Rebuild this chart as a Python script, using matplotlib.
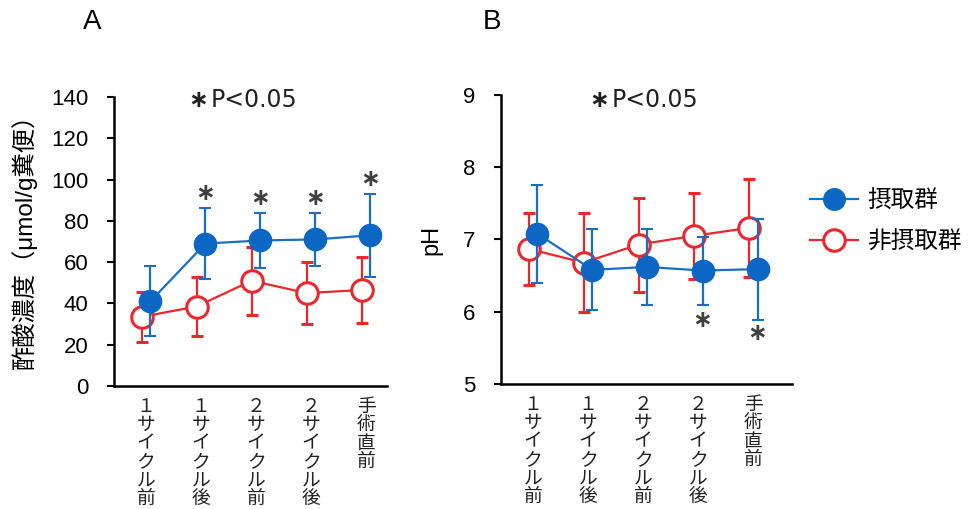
import matplotlib
matplotlib.use("Agg")
import matplotlib.pyplot as plt
import numpy as np
from matplotlib.lines import Line2D

plt.rcParams['font.family'] = ['Liberation Sans', 'Noto Sans CJK JP', 'DejaVu Sans']

categories = ["１サイクル前", "１サイクル後", "２サイクル前", "２サイクル後", "手術直前"]

# Panel A: acetic acid concentration
a_int = [41, 69, 70.5, 71, 73]
a_int_err = [17, 17, 13.5, 13, 20]
a_non = [33.5, 38.5, 51, 45, 46.5]
a_non_err = [12, 14.5, 16.5, 15, 16]
a_star_idx = [1, 2, 3, 4]
a_star_y = [93.4, 91, 91, 100.3]

# Panel B: pH
b_int = [7.08, 6.58, 6.62, 6.57, 6.59]
b_int_err = [0.68, 0.56, 0.52, 0.47, 0.7]
b_non = [6.87, 6.68, 6.93, 7.05, 7.16]
b_non_err = [0.5, 0.68, 0.65, 0.6, 0.68]
b_star_idx = [3, 4]
b_star_y = [5.88, 5.70]

BLUE = '#1a6fc4'
BLUE_FACE = '#0b66c4'
RED = '#e8282c'
STAR = '#404040'
CJK = ['Noto Sans CJK JP', 'DejaVu Sans']
MIX = ['Liberation Sans', 'Noto Sans CJK JP', 'DejaVu Sans']

fig = plt.figure(figsize=(9.68, 5.09), dpi=100)
axA = fig.add_axes([0.1178, 0.2417, 0.282, 0.5677])
axB = fig.add_axes([0.5176, 0.2456, 0.3003, 0.5678])

x = np.arange(len(categories))
off = 0.08

def draw(ax, non, non_err, inte, inte_err):
    ax.errorbar(x - off, non, yerr=non_err, color=RED, lw=1.6, elinewidth=1.6,
                capsize=4.5, capthick=1.6, marker='o', markersize=15.5,
                markerfacecolor='white', markeredgecolor=RED, markeredgewidth=2.2, zorder=3)
    ax.errorbar(x + off, inte, yerr=inte_err, color=BLUE, lw=1.6, elinewidth=1.6,
                capsize=4.5, capthick=1.6, marker='o', markersize=15.5,
                markerfacecolor=BLUE_FACE, markeredgecolor=BLUE_FACE, markeredgewidth=1.5, zorder=4)
    for s in ['top', 'right']:
        ax.spines[s].set_visible(False)
    for s in ['left', 'bottom']:
        ax.spines[s].set_linewidth(1.8)
    ax.set_xticks(x)
    ax.set_xticklabels(['\n'.join(c) for c in categories], family=CJK, fontsize=13.5,
                       linespacing=0.84, va='top', color='#222222')
    ax.tick_params(axis='x', length=0, pad=7)
    ax.tick_params(axis='y', length=5, width=1.5, labelsize=16, pad=13.5, direction='out')

draw(axA, a_non, a_non_err, a_int, a_int_err)
axA.set_ylim(0, 140)
axA.set_yticks(np.arange(0, 141, 20))
axA.set_xlim(-0.58, 4.38)
for i, yv in zip(a_star_idx, a_star_y):
    axA.text(x[i] + off, yv, '∗', ha='center', va='center', fontsize=17,
             family='DejaVu Sans', fontweight='bold', color=STAR)

draw(axB, b_non, b_non_err, b_int, b_int_err)
axB.set_ylim(5, 9)
axB.set_yticks([5, 6, 7, 8, 9])
axB.set_xlim(-0.58, 4.7)
for i, yv in zip(b_star_idx, b_star_y):
    axB.text(x[i] + off, yv, '∗', ha='center', va='center', fontsize=17,
             family='DejaVu Sans', fontweight='bold', color=STAR)

# significance notes
for xs, xp in [(198.5, 211), (599, 612)]:
    fig.text(xs / 968, 1 - 100 / 509, '∗', ha='center', va='center', fontsize=17,
             family='DejaVu Sans', fontweight='bold', color='#222222')
    fig.text(xp / 968, 1 - 107 / 509, 'P<0.05', ha='left', va='baseline', fontsize=17,
             family='DejaVu Sans', color='#222222')

fig.text(24 / 968, 1 - 235 / 509, '酢酸濃度（μmol/g糞便）', rotation=90, ha='center',
         va='center', family=MIX, fontsize=17.5)
fig.text(431 / 968, 1 - 240 / 509, 'pH', rotation=90, ha='center', va='center', fontsize=17)

fig.text(92.5 / 968, 1 - 22 / 509, 'A', fontsize=20, ha='center', va='center')
fig.text(492 / 968, 1 - 22 / 509, 'B', fontsize=20, ha='center', va='center')

handles = [
    Line2D([], [], color=BLUE, lw=1.6, marker='o', markersize=15.5,
           markerfacecolor=BLUE_FACE, markeredgecolor=BLUE_FACE),
    Line2D([], [], color=RED, lw=1.6, marker='o', markersize=15.5,
           markerfacecolor='white', markeredgecolor=RED, markeredgewidth=2.2),
]
fig.legend(handles, ['摂取群', '非摂取群'], loc='center left',
           bbox_to_anchor=(0.837, 0.565), frameon=False, prop={'family': CJK, 'size': 17},
           handlelength=2.03, labelspacing=0.75, handletextpad=0.38, borderpad=0, borderaxespad=0)

fig.savefig('out.png', dpi=100)
